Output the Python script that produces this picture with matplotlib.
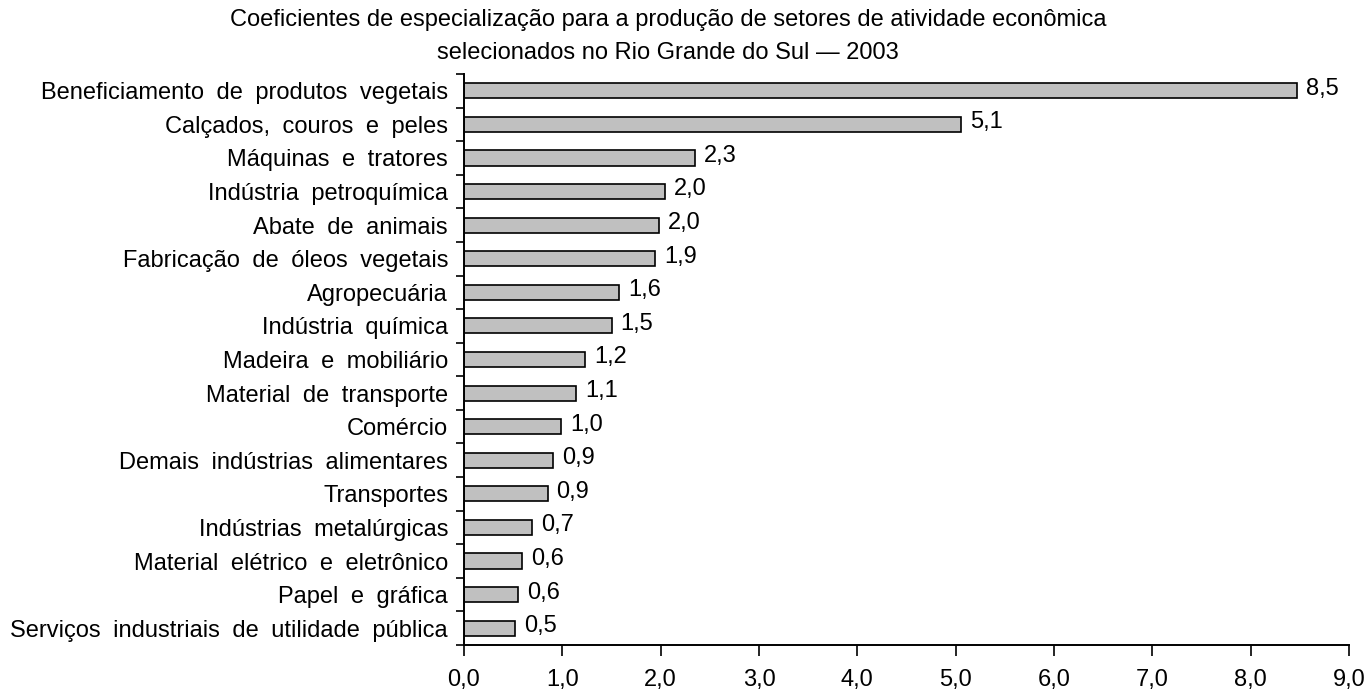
import matplotlib
matplotlib.use("Agg")
import matplotlib.pyplot as plt
import numpy as np

plt.rcParams['font.family'] = ['Liberation Sans', 'DejaVu Sans']

categories = [
    "Beneficiamento de produtos vegetais",
    "Calçados, couros e peles",
    "Máquinas e tratores",
    "Indústria petroquímica",
    "Abate de animais",
    "Fabricação de óleos vegetais",
    "Agropecuária",
    "Indústria química",
    "Madeira e mobiliário",
    "Material de transporte",
    "Comércio",
    "Demais indústrias alimentares",
    "Transportes",
    "Indústrias metalúrgicas",
    "Material elétrico e eletrônico",
    "Papel e gráfica",
    "Serviços industriais de utilidade pública",
]
values = [8.47, 5.05, 2.35, 2.04, 1.98, 1.94, 1.58, 1.50, 1.23, 1.14,
          0.99, 0.91, 0.85, 0.69, 0.59, 0.55, 0.52]
value_labels = ["8,5", "5,1", "2,3", "2,0", "2,0", "1,9", "1,6", "1,5", "1,2",
                "1,1", "1,0", "0,9", "0,9", "0,7", "0,6", "0,6", "0,5"]
xticks = [0, 1, 2, 3, 4, 5, 6, 7, 8, 9]
xtick_labels = ["0,0", "1,0", "2,0", "3,0", "4,0", "5,0", "6,0", "7,0", "8,0", "9,0"]
title_lines = ["Coeficientes de especialização para a produção de setores de atividade econômica",
               "selecionados no Rio Grande do Sul — 2003"]

FS = 17

# the reference uses slightly wider word spacing in the category labels
display_categories = [c.replace(" ", " \u2005") for c in categories]

fig = plt.figure(figsize=(13.71, 6.96), dpi=100)
ax = fig.add_axes([464/1371, 1 - 645/696, (1349 - 464)/1371, (645 - 74)/696])

n = len(categories)
y = np.arange(n)
ax.barh(y, values, height=0.45, color="#c0c0c0", edgecolor="black", linewidth=1.2)

ax.set_ylim(n - 0.5, -0.5)
ax.set_xlim(0, 9)

ax.set_yticks(y)
ax.set_yticklabels(display_categories, fontsize=FS)
ax.tick_params(axis='y', which='major', length=0, pad=11.5)
ax.set_yticks(np.arange(-0.5, n, 1.0), minor=True)
ax.tick_params(axis='y', which='minor', length=6, width=1.2, direction='out')

ax.set_xticks(xticks)
ax.set_xticklabels(xtick_labels, fontsize=FS)
ax.tick_params(axis='x', which='major', length=8, width=1.2, direction='out', pad=9)

for s in ['top', 'right']:
    ax.spines[s].set_visible(False)
for s in ['left', 'bottom']:
    ax.spines[s].set_linewidth(1.4)

for yi, v, lab in zip(y, values, value_labels):
    ax.annotate(lab, xy=(v, yi), xytext=(6.5, 1.5), textcoords='offset points',
                va='center', ha='left', fontsize=FS)

fig.text(668/1371, 1 - 20/696, title_lines[0], ha='center', va='center', fontsize=FS)
fig.text(668/1371, 1 - 53/696, title_lines[1], ha='center', va='center', fontsize=FS)

fig.savefig("out.png", dpi=100)
